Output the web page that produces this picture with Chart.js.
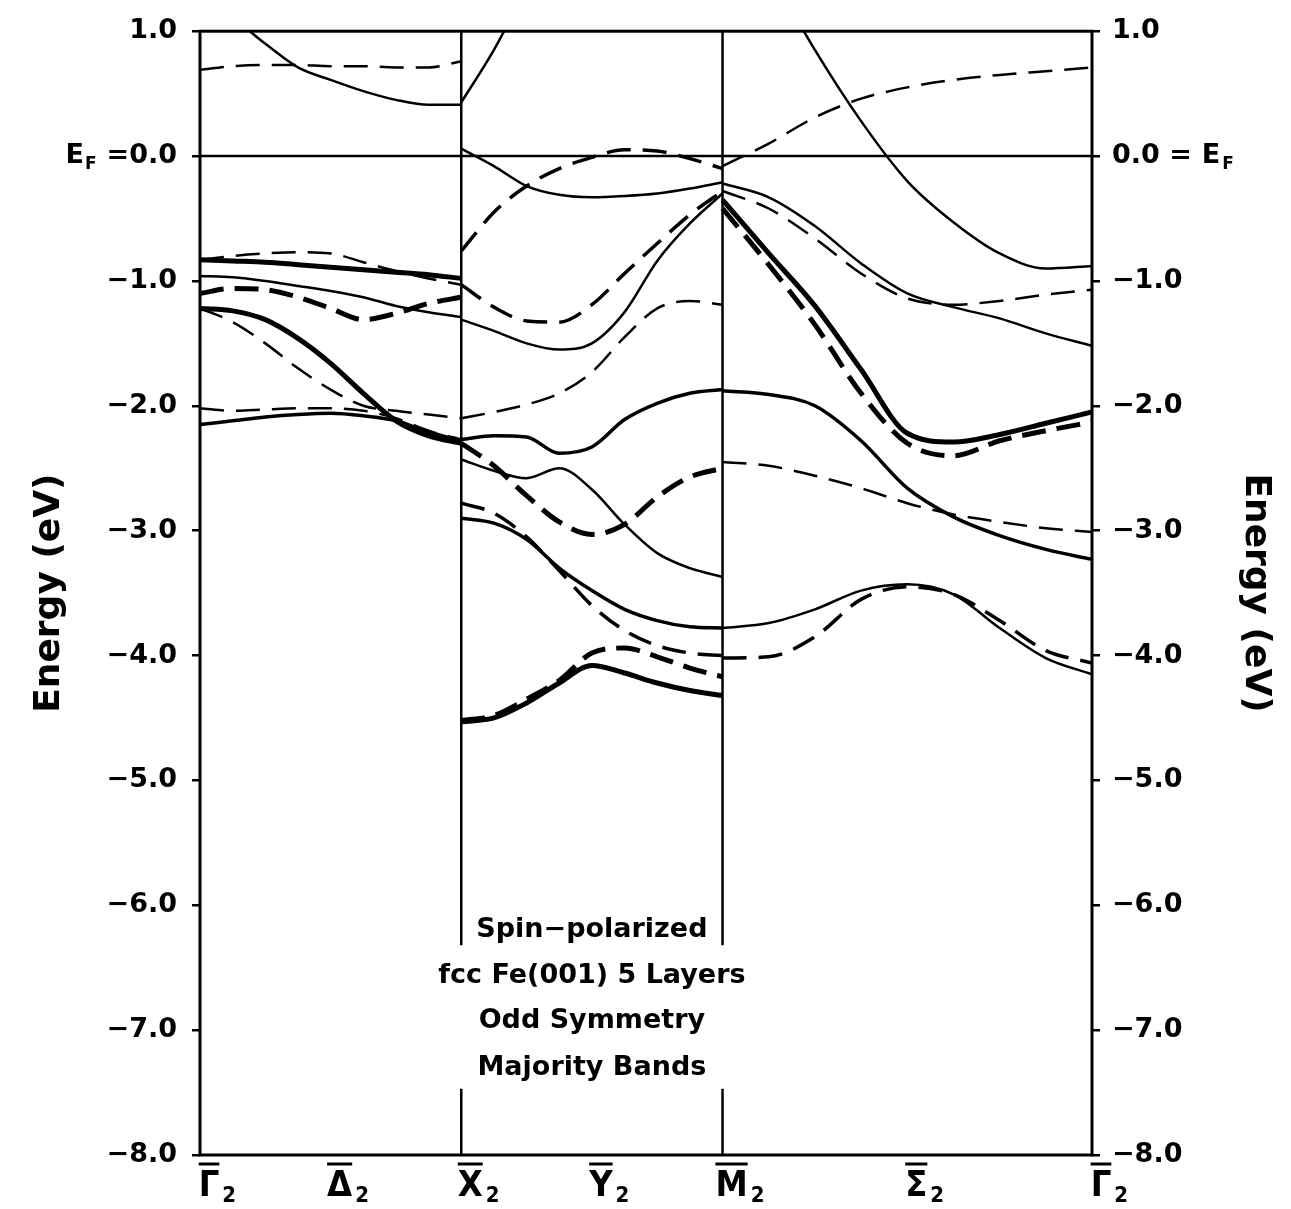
<!DOCTYPE html>
<html>
<head>
<meta charset="utf-8">
<title>fcc Fe(001) 5 layers - odd symmetry majority bands</title>
<script src="https://cdn.jsdelivr.net/npm/chart.js@4.4.1/dist/chart.umd.min.js"></script>
<style>
  body { margin: 0; background: #fff; }
  canvas { display: block; }
</style>
</head>
<body>
<canvas id="bands" width="1291" height="1209"></canvas>
<script>
// k path Gamma -> X -> M -> Gamma, segment lengths 1 : 1 : sqrt(2)
const SQ2 = Math.SQRT2;
const kStep = [0, 0.125, 0.25, 0.375, 0.5, 0.625, 0.75, 0.875, 1];
const kGX = kStep.map(f => f);
const kXM = kStep.map(f => 1 + f);
const kMG = kStep.map(f => 2 + f * SQ2);

const symPoints = [0, 0.5, 1, 1.5, 2, 2 + SQ2 / 2, 2 + SQ2];
const symLabels = ['Γ', 'Δ', 'X', 'Y', 'M', 'Σ', 'Γ'];
const yTicks = [1, 0, -1, -2, -3, -4, -5, -6, -7, -8];
const captionLines = ['Spin\u2212polarized', 'fcc Fe(001) 5 Layers', 'Odd Symmetry', 'Majority Bands'];
const captionE = [-6.2, -6.57, -6.93, -7.3];

// Gamma - X (eV)
const gx1 = [1.2, 1.1, 0.9, 0.71, 0.61, 0.52, 0.45, 0.41, 0.41];
const gx2 = [0.69, 0.72, 0.73, 0.73, 0.72, 0.72, 0.71, 0.71, 0.76];
const gx3 = [-0.83, -0.84, -0.85, -0.87, -0.89, -0.91, -0.93, -0.95, -0.98];
const gx4 = [-0.83, -0.8, -0.78, -0.77, -0.78, -0.85, -0.92, -0.98, -1.03];
const gx5 = [-0.96, -0.97, -1.0, -1.04, -1.08, -1.13, -1.2, -1.25, -1.29];
const gx6 = [-1.1, -1.06, -1.07, -1.13, -1.22, -1.31, -1.26, -1.18, -1.13];
const gx7 = [-1.22, -1.24, -1.31, -1.46, -1.66, -1.9, -2.12, -2.24, -2.3];
const gx8 = [-1.22, -1.33, -1.5, -1.7, -1.87, -2.0, -2.04, -2.07, -2.1];
const gx9 = [-2.15, -2.12, -2.09, -2.07, -2.06, -2.08, -2.12, -2.21, -2.28];
const gx10 = [-2.02, -2.04, -2.03, -2.02, -2.02, -2.04, -2.1, -2.2, -2.27];

// X - M
const xm1 = [0.43, 0.85, 1.35, null, null, null, null, null, null];
const xm2 = [0.06, -0.08, -0.24, -0.31, -0.33, -0.32, -0.3, -0.26, -0.21];
const xm3 = [-0.76, -0.45, -0.24, -0.1, -0.01, 0.05, 0.04, -0.02, -0.1];
const xm4 = [-1.03, -1.21, -1.32, -1.33, -1.19, -0.94, -0.7, -0.47, -0.28];
const xm5 = [-1.31, -1.4, -1.5, -1.55, -1.5, -1.25, -0.84, -0.54, -0.3];
const xm6 = [-2.1, -2.05, -1.99, -1.9, -1.73, -1.45, -1.22, -1.16, -1.19];
const xm7 = [-2.27, -2.24, -2.25, -2.38, -2.33, -2.11, -1.98, -1.9, -1.87];
const xm8 = [-2.43, -2.52, -2.58, -2.5, -2.67, -2.95, -3.18, -3.3, -3.37];
const xm9 = [-2.3, -2.48, -2.72, -2.93, -3.03, -2.95, -2.73, -2.57, -2.5];
const xm10 = [-2.78, -2.86, -3.05, -3.32, -3.6, -3.8, -3.92, -3.98, -4.0];
const xm11 = [-2.9, -2.94, -3.07, -3.3, -3.48, -3.63, -3.72, -3.77, -3.78];
const xm12 = [-4.52, -4.48, -4.35, -4.2, -3.98, -3.94, -4.01, -4.1, -4.17];
const xm13 = [-4.53, -4.5, -4.38, -4.22, -4.08, -4.14, -4.22, -4.28, -4.32];

// M - Gamma
const mg1 = [2.2, 1.5, 0.85, 0.28, -0.2, -0.53, -0.78, -0.9, -0.88];
const mg2 = [-0.08, 0.1, 0.31, 0.46, 0.55, 0.61, 0.65, 0.68, 0.71];
const mg3 = [-0.22, -0.33, -0.56, -0.86, -1.1, -1.21, -1.3, -1.42, -1.52];
const mg4 = [-0.28, -0.42, -0.66, -0.94, -1.14, -1.19, -1.16, -1.11, -1.07];
const mg5 = [-0.35, -0.78, -1.2, -1.71, -2.22, -2.29, -2.23, -2.14, -2.05];
const mg6 = [-0.42, -0.87, -1.35, -1.9, -2.3, -2.4, -2.28, -2.2, -2.13];
const mg7 = [-1.88, -1.91, -2.0, -2.28, -2.66, -2.89, -3.04, -3.15, -3.23];
const mg8 = [-2.45, -2.48, -2.56, -2.66, -2.78, -2.87, -2.93, -2.98, -3.01];
const mg9 = [-3.78, -3.74, -3.63, -3.48, -3.43, -3.51, -3.78, -4.02, -4.15];
const mg10 = [-4.02, -4.01, -3.85, -3.55, -3.45, -3.51, -3.72, -3.96, -4.06];

// dividers at X and M, broken around the caption
const dividerK = [1, 2];
const dividerE = [1, -6.32, null, -7.47, -8];

const lineStyles = {
  thin:      { borderWidth: 2.5, borderDash: [] },
  mid:       { borderWidth: 3.5, borderDash: [] },
  thick:     { borderWidth: 5,   borderDash: [] },
  dash:      { borderWidth: 2.5, borderDash: [24, 12] },
  dashMid:   { borderWidth: 3.5, borderDash: [24, 12] },
  dashThick: { borderWidth: 5,   borderDash: [24, 11] }
};

const bands = [
  [kGX, gx1, 'thin'], [kGX, gx2, 'dash'], [kGX, gx3, 'thick'], [kGX, gx4, 'dash'],
  [kGX, gx5, 'thin'], [kGX, gx6, 'dashThick'], [kGX, gx7, 'thick'], [kGX, gx8, 'dash'],
  [kGX, gx9, 'mid'], [kGX, gx10, 'dash'],
  [kXM, xm1, 'thin'], [kXM, xm2, 'thin'], [kXM, xm3, 'dashMid'], [kXM, xm4, 'dashMid'],
  [kXM, xm5, 'thin'], [kXM, xm6, 'dash'], [kXM, xm7, 'mid'], [kXM, xm8, 'thin'],
  [kXM, xm9, 'dashThick'], [kXM, xm10, 'dashMid'], [kXM, xm11, 'mid'], [kXM, xm12, 'dashThick'],
  [kXM, xm13, 'thick'],
  [kMG, mg1, 'thin'], [kMG, mg2, 'dash'], [kMG, mg3, 'thin'], [kMG, mg4, 'dash'],
  [kMG, mg5, 'thick'], [kMG, mg6, 'dashThick'], [kMG, mg7, 'mid'], [kMG, mg8, 'dash'],
  [kMG, mg9, 'thin'], [kMG, mg10, 'dashMid']
];

const datasets = bands.map(([k, e, style]) => ({
  data: k.map((x, i) => ({ x: x, y: e[i] })),
  showLine: true,
  cubicInterpolationMode: 'monotone',
  borderColor: '#000',
  pointRadius: 0,
  borderCapStyle: 'butt',
  ...lineStyles[style]
}));

// Fermi level
datasets.push({
  data: [{ x: 0, y: 0 }, { x: 2 + SQ2, y: 0 }],
  showLine: true, borderColor: '#000', borderWidth: 2.5, pointRadius: 0
});

dividerK.forEach(k => {
  datasets.push({
    data: dividerE.map(e => ({ x: k, y: e })),
    showLine: true, spanGaps: false, borderColor: '#000', borderWidth: 2.5, pointRadius: 0
  });
});

const FAMILY = "'DejaVu Sans', 'Liberation Sans', sans-serif";
const tickFont = { family: FAMILY, size: 27, weight: 'bold' };
const tickFontStr = 'bold 27px ' + FAMILY;

function fmt(v) {
  return (v < 0 ? '\u2212' : '') + Math.abs(v).toFixed(1);
}

const decor = {
  id: 'decor',
  afterDraw(chart) {
    const ctx = chart.ctx;
    const a = chart.chartArea;
    const xs = chart.scales.x;
    const ys = chart.scales.y;
    ctx.save();
    ctx.fillStyle = '#000';
    ctx.strokeStyle = '#000';

    // frame
    ctx.lineWidth = 3;
    ctx.strokeRect(a.left, a.top, a.right - a.left, a.bottom - a.top);

    // E_F next to the zero labels
    const y0 = ys.getPixelForValue(0);
    ctx.font = tickFontStr;
    ctx.textBaseline = 'middle';
    const wl = ctx.measureText('=0.0').width;
    const xr = a.left - 8 - 15 - wl - 10;
    ctx.font = 'bold 17px ' + FAMILY;
    ctx.textAlign = 'right';
    ctx.fillText('F', xr, y0 + 9);
    const fw = ctx.measureText('F').width;
    ctx.font = tickFontStr;
    ctx.fillText('E', xr - fw - 1, y0);

    const wr = ctx.measureText('0.0 =').width;
    const xl = a.right + 8 + 12 + wr + 10;
    ctx.textAlign = 'left';
    ctx.fillText('E', xl, y0);
    const ew = ctx.measureText('E').width;
    ctx.font = 'bold 17px ' + FAMILY;
    ctx.fillText('F', xl + ew + 2, y0 + 9);

    // symmetry point labels
    const symFont = "bold 36px 'DejaVu Sans Condensed', 'Liberation Sans Narrow', " + FAMILY;
    symPoints.forEach((k, i) => {
      const px = xs.getPixelForValue(k) + 9;
      ctx.font = symFont;
      ctx.textAlign = 'center';
      ctx.textBaseline = 'alphabetic';
      ctx.fillText(symLabels[i], px, 1196);
      const lw = ctx.measureText(symLabels[i]).width;
      ctx.lineWidth = 3;
      ctx.beginPath();
      ctx.moveTo(px - lw / 2, 1164);
      ctx.lineTo(px + lw / 2, 1164);
      ctx.stroke();
      ctx.font = "bold 22px 'DejaVu Sans Condensed', " + FAMILY;
      ctx.textAlign = 'left';
      ctx.fillText('2', px + lw / 2 + 3, 1202);
    });

    // caption
    ctx.font = 'bold 27px ' + FAMILY;
    ctx.textAlign = 'center';
    ctx.textBaseline = 'middle';
    const cx = xs.getPixelForValue(1.5);
    captionLines.forEach((t, i) => {
      ctx.fillText(t, cx, ys.getPixelForValue(captionE[i]));
    });
    ctx.restore();
  }
};

function yAxis(position, width, zeroLabel, pad, titlePad) {
  return {
    type: 'linear',
    position: position,
    min: -8,
    max: 1,
    afterFit: s => { s.width = width; },
    afterBuildTicks: s => { s.ticks = yTicks.map(v => ({ value: v })); },
    ticks: {
      color: '#000',
      font: tickFont,
      padding: pad,
      callback: v => (v === 0 ? zeroLabel : fmt(v))
    },
    grid: { drawOnChartArea: false, color: '#000', lineWidth: 2.5, tickLength: 8 },
    border: { display: false },
    title: {
      display: true,
      text: 'Energy (eV)',
      color: '#000',
      font: { family: FAMILY, size: 36, weight: 'bold' },
      padding: { top: titlePad, bottom: 0 }
    }
  };
}

new Chart(document.getElementById('bands'), {
  type: 'scatter',
  data: { datasets: datasets },
  plugins: [decor],
  options: {
    responsive: false,
    animation: false,
    events: [],
    layout: { padding: { top: 27, left: 0, right: 0, bottom: 0 } },
    plugins: { legend: { display: false }, tooltip: { enabled: false } },
    scales: {
      x: {
        type: 'linear',
        min: 0,
        max: 2 + SQ2,
        afterFit: s => { s.height = 54; },
        ticks: { display: false },
        grid: { display: false },
        border: { display: false }
      },
      y: yAxis('left', 200, '=0.0', 15, 28),
      y2: yAxis('right', 199, '0.0 =', 12, 14)
    }
  }
});
</script>
</body>
</html>
